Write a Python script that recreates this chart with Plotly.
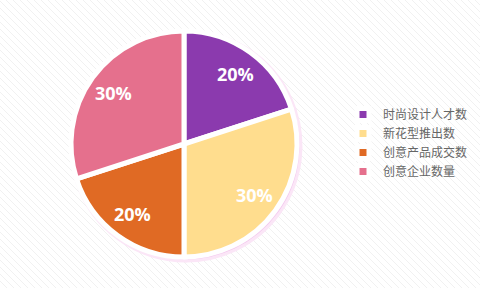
import math
import plotly.graph_objects as go

labels = ["时尚设计人才数", "新花型推出数", "创意产品成交数", "创意企业数量"]
values = [20, 30, 20, 30]
colors = ["#8B3AAE", "#FFDD8E", "#E06A24", "#E5708D"]

W, H = 480, 288
cx, cy, r = 184, 144, 113

def dom(cx, cy, r):
    return dict(x=[(cx - r) / W, (cx + r) / W], y=[(H - cy - r) / H, (H - cy + r) / H])

fig = go.Figure()
# soft pink glow behind
fig.add_trace(go.Pie(
    labels=labels, values=values, sort=False, direction="clockwise", rotation=0,
    domain=dom(cx + 2, cy + 2, r + 2), showlegend=False, textinfo="none", hoverinfo="skip",
    marker=dict(colors=["#f3c6ee"] * 4, line=dict(color="#fbe6f7", width=3)),
))
fig.add_trace(go.Pie(
    labels=labels, values=values, sort=False, direction="clockwise", rotation=0,
    domain=dom(cx, cy, r), textinfo="none",
    marker=dict(colors=colors, line=dict(color="white", width=5)),
))

# percentage labels placed at ~0.77 radius along each slice's mid-angle
total = sum(values)
annotations = []
cum = 0
for v in values:
    mid = (cum + v / 2) / total * 2 * math.pi
    cum += v
    px = cx + 0.77 * r * math.sin(mid)
    py = cy - 0.77 * r * math.cos(mid)
    annotations.append(dict(x=px / W, y=(H - py) / H, xref="paper", yref="paper",
                            xanchor="center", yanchor="middle",
                            text=f"{round(v / total * 100)}%", showarrow=False,
                            font=dict(color="white", size=18, family="Open Sans", weight="bold")))

shapes = []
step = 7
x0 = -H
while x0 < W:
    shapes.append(dict(type="line", xref="paper", yref="paper",
                       x0=x0 / W, y0=1, x1=(x0 + H) / W, y1=0,
                       line=dict(color="#f1f1f1", width=1), layer="below"))
    x0 += step

fig.update_layout(
    width=W, height=H, margin=dict(l=0, r=0, t=0, b=0),
    paper_bgcolor="white", plot_bgcolor="white",
    shapes=shapes, annotations=annotations,
    legend=dict(x=343 / W, y=(H - 143) / H, yanchor="middle", xanchor="left",
                font=dict(size=12, color="#666666", family="Noto Sans CJK SC"),
                itemwidth=30, tracegroupgap=0, bgcolor="rgba(0,0,0,0)"),
)
fig.write_html("out.html")
